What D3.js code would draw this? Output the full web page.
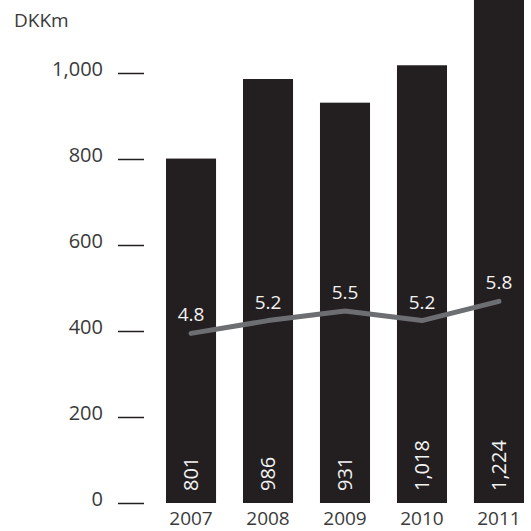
<!DOCTYPE html>
<html>
<head>
<meta charset="utf-8">
<script src="https://cdn.jsdelivr.net/npm/d3@7"></script>
<style>
  body { margin: 0; background: #fff; }
  svg text { font-family: "Open Sans", sans-serif; }
</style>
</head>
<body>
<div id="graf"></div>
<script>
// Datos
const years   = ['2007', '2008', '2009', '2010', '2011']
const revenue = [801, 986, 931, 1018, 1224]
const margin  = [4.8, 5.2, 5.5, 5.2, 5.8]
const yTicks  = [0, 200, 400, 600, 800, 1000]

const ancho_total = 531, alto_total = 531

const svg = d3.select('#graf').append('svg')
  .attr('width', ancho_total)
  .attr('height', alto_total)

// Escalas
const x = d3.scaleBand()
  .domain(years)
  .range([166, 524])
  .paddingInner(0.35)
  .paddingOuter(0)

const y = d3.scaleLinear()
  .domain([0, 1000])
  .range([503, 73])

// escala secundaria para la línea (sin eje visible)
const y2 = d3.scaleLinear()
  .domain([4, 6])
  .range([359, 295])

// Barras
svg.selectAll('rect.bar')
  .data(years)
  .enter().append('rect')
    .attr('class', 'bar')
    .attr('x', d => x(d))
    .attr('width', x.bandwidth())
    .attr('y', (d, i) => y(revenue[i]))
    .attr('height', (d, i) => y(0) - y(revenue[i]))
    .attr('fill', '#231f20')

// Etiquetas dentro de las barras (rotadas)
svg.selectAll('text.val')
  .data(years)
  .enter().append('text')
    .attr('class', 'val')
    .attr('transform', d => `translate(${x(d) + x.bandwidth() / 2 + 7}, 491) rotate(-90)`)
    .attr('fill', '#f2f2f2')
    .style('font-size', '20px')
    .text((d, i) => d3.format(',')(revenue[i]))

// Línea
const linea = d3.line()
  .x((d, i) => x(years[i]) + x.bandwidth() / 2)
  .y(d => y2(d))

svg.append('path')
  .datum(margin)
  .attr('d', linea)
  .attr('fill', 'none')
  .attr('stroke', '#6d6e71')
  .attr('stroke-width', 5)
  .attr('stroke-linecap', 'round')
  .attr('stroke-linejoin', 'round')

svg.selectAll('text.pct')
  .data(margin)
  .enter().append('text')
    .attr('class', 'pct')
    .attr('x', (d, i) => x(years[i]) + x.bandwidth() / 2)
    .attr('y', d => y2(d) - 12)
    .attr('text-anchor', 'middle')
    .attr('fill', '#f2f2f2')
    .style('font-size', '19px')
    .text(d => d.toFixed(1))

// Eje Y
const yAxisCall = d3.axisLeft(y)
  .tickValues(yTicks)
  .tickSize(26)
  .tickPadding(15)
  .tickFormat(d3.format(','))

const yAxisGroup = svg.append('g')
  .attr('transform', 'translate(144, 0)')
  .call(yAxisCall)

yAxisGroup.select('.domain').remove()
yAxisGroup.selectAll('line')
  .attr('stroke', '#231f20')
  .attr('stroke-width', 1.5)
yAxisGroup.selectAll('text')
  .attr('fill', '#3a3a3a')
  .attr('dy', '0.1em')
  .style('font-size', '20px')
  .style('font-family', '"Open Sans", sans-serif')

// Años
svg.selectAll('text.year')
  .data(years)
  .enter().append('text')
    .attr('class', 'year')
    .attr('x', d => x(d) + x.bandwidth() / 2)
    .attr('y', 525)
    .attr('text-anchor', 'middle')
    .attr('fill', '#3a3a3a')
    .style('font-size', '19px')
    .text(d => d)

// Unidad
svg.append('text')
  .attr('x', 14)
  .attr('y', 27)
  .attr('fill', '#3a3a3a')
  .style('font-size', '19px')
  .text('DKKm')
</script>
</body>
</html>
